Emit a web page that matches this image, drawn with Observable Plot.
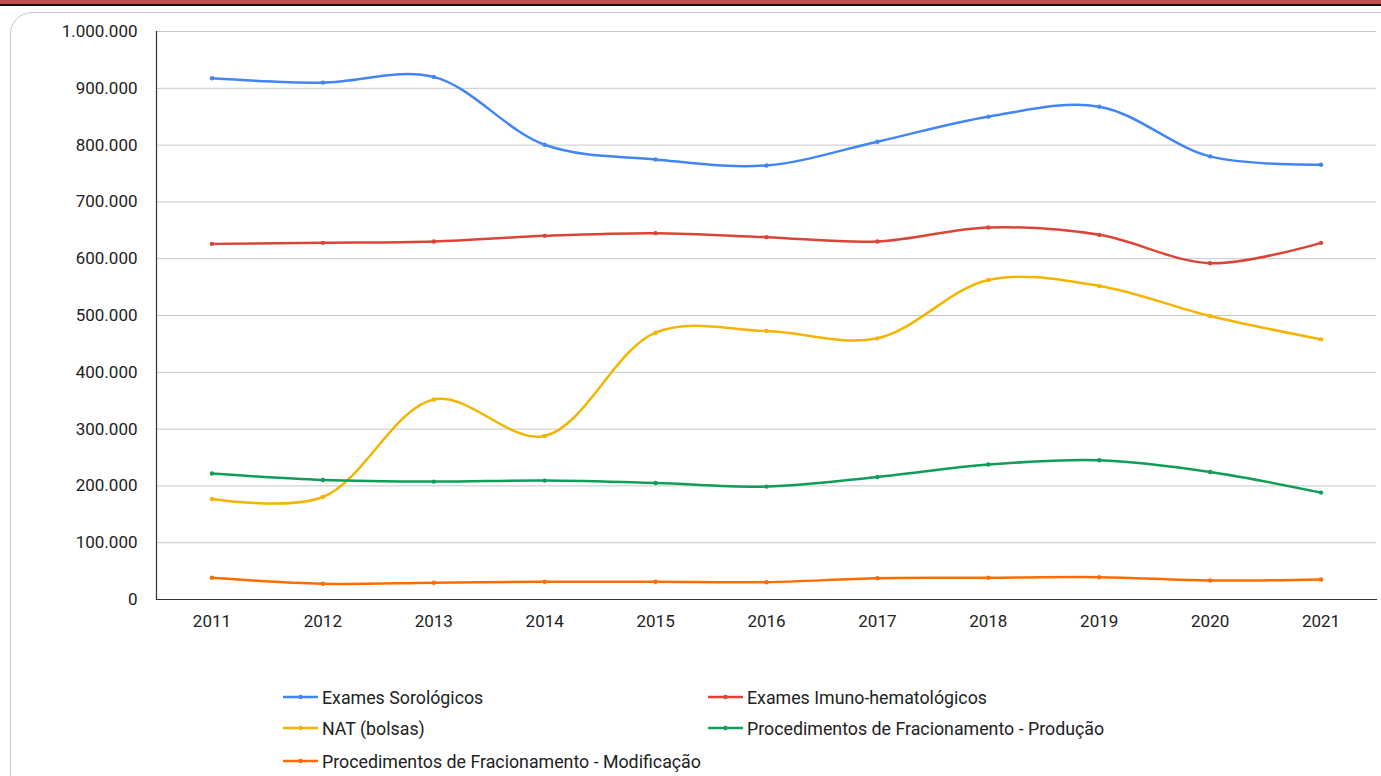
<!DOCTYPE html>
<html>
<head>
<meta charset="utf-8">
<script src="https://cdn.jsdelivr.net/npm/d3@7"></script>
<script src="https://cdn.jsdelivr.net/npm/@observablehq/plot@0.6"></script>
<style>
  html, body { margin: 0; padding: 0; background: #fff; width: 1381px; height: 776px; overflow: hidden; font-family: Roboto, "Noto Sans", sans-serif; }
  #topbar { position: absolute; left: 0; top: 0; width: 1381px; height: 4px; background: #c24f4a; }
  #topline { position: absolute; left: 0; top: 4px; width: 1381px; height: 2px; background: #111; }
  #panel { position: absolute; left: 10px; top: 12px; width: 1420px; height: 820px; border: 1.5px solid #c6c6c6; border-radius: 22px; box-sizing: border-box; }
  #chart { position: absolute; left: 0; top: 0; }
  .leg { position: absolute; display: flex; align-items: center; font-size: 17.8px; color: #222; white-space: nowrap; }
  .leg svg { margin-right: 4px; }
</style>
</head>
<body>
<div id="topbar"></div>
<div id="topline"></div>
<div id="panel"></div>
<div id="chart"></div>
<div id="legend"></div>
<script>
const years = [2011, 2012, 2013, 2014, 2015, 2016, 2017, 2018, 2019, 2020, 2021];
const seriesNames = [
  "Exames Sorológicos",
  "Exames Imuno-hematológicos",
  "NAT (bolsas)",
  "Procedimentos de Fracionamento - Produção",
  "Procedimentos de Fracionamento - Modificação"
];
const seriesColors = ["#4285f4", "#db4437", "#f4b400", "#0f9d58", "#ff6d01"];
const examesSorologicos = [917600, 910000, 920100, 800700, 774800, 764200, 806000, 850100, 867700, 780100, 765400];
const examesImuno = [626100, 627900, 630200, 640200, 645000, 637900, 630200, 654900, 642000, 592100, 627900];
const natBolsas = [176900, 180400, 352200, 288000, 469700, 472700, 459800, 562600, 552000, 499100, 458000];
const fracProducao = [221700, 210400, 207600, 209300, 205100, 198800, 215700, 237600, 245100, 224500, 188200];
const fracModificacao = [38300, 27700, 29500, 31200, 31200, 30500, 37600, 38300, 39300, 33500, 35300];
const yTicks = [0, 100000, 200000, 300000, 400000, 500000, 600000, 700000, 800000, 900000, 1000000];

const seriesValues = [examesSorologicos, examesImuno, natBolsas, fracProducao, fracModificacao];
const data = seriesNames.flatMap((name, i) =>
  years.map((year, j) => ({ series: name, year, value: seriesValues[i][j] }))
);

const fmt = d3.formatLocale({ decimal: ",", thousands: ".", grouping: [3], currency: ["R$", ""] }).format(",d");
const yearFmt = d => String(d);

const chart = Plot.plot({
  width: 1381,
  height: 650,
  marginLeft: 156,
  marginRight: 5,
  marginTop: 31,
  marginBottom: 51,
  style: { fontFamily: "Roboto, 'Noto Sans', sans-serif", fontSize: "17px", color: "#222", background: "transparent" },
  x: { type: "point", domain: years, padding: 0.5, round: false, label: null },
  y: { domain: [0, 1000000], label: null },
  color: { domain: seriesNames, range: seriesColors },
  marks: [
    Plot.gridY(yTicks, { stroke: "#c8c8c8", strokeOpacity: 1, strokeWidth: 1 }),
    Plot.axisY(yTicks, { tickFormat: fmt, tickSize: 0, tickPadding: 19, fill: "#222", fontSize: 17, label: null }),
    Plot.axisX(years, { tickFormat: yearFmt, tickSize: 0, tickPadding: 15, fill: "#222", fontSize: 17, label: null }),
    Plot.frame({ anchor: "left", stroke: "#333", strokeWidth: 1.2 }),
    Plot.frame({ anchor: "bottom", stroke: "#333", strokeWidth: 1.2 }),
    Plot.line(data, { x: "year", y: "value", z: "series", stroke: "series", strokeWidth: 2.5, curve: "catmull-rom" }),
    Plot.dot(data, { x: "year", y: "value", fill: "series", r: 2.2 })
  ]
});
document.getElementById("chart").appendChild(chart);

// Legend
const legend = document.getElementById("legend");
const legPos = [
  { x: 283, y: 697 }, { x: 708, y: 697 },
  { x: 283, y: 728 }, { x: 708, y: 728 },
  { x: 283, y: 761 }
];
seriesNames.forEach((name, i) => {
  const div = document.createElement("div");
  div.className = "leg";
  div.style.left = legPos[i].x + "px";
  div.style.top = (legPos[i].y - 12) + "px";
  div.style.height = "24px";
  div.innerHTML = `<svg width="35" height="10"><line x1="0" y1="5" x2="35" y2="5" stroke="${seriesColors[i]}" stroke-width="2.5"/><circle cx="17.5" cy="5" r="2.2" fill="${seriesColors[i]}"/></svg><span>${name}</span>`;
  legend.appendChild(div);
});
</script>
</body>
</html>
